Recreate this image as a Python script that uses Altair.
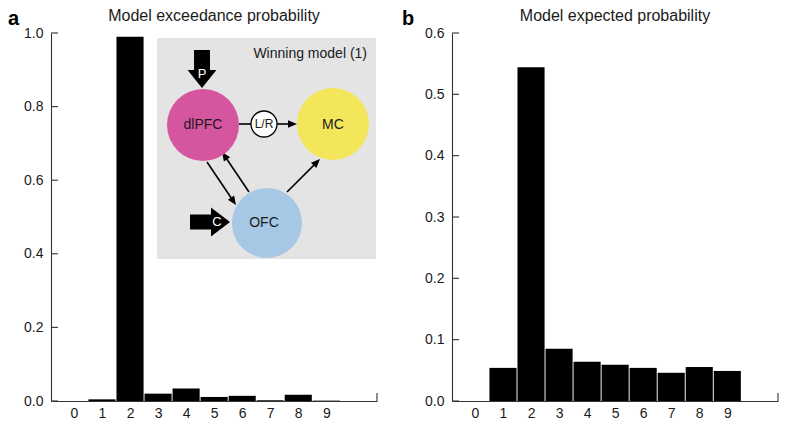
import math
import altair as alt
import pandas as pd

FONT = "Liberation Sans"
AX = "#333333"
TXT = "#1a1a1a"

# ---- data ----
models = [0, 1, 2, 3, 4, 5, 6, 7, 8, 9]
exceedance = [0.0, 0.0045, 0.99, 0.02, 0.034, 0.011, 0.014, 0.002, 0.017, 0.001]
expected = [0.0, 0.054, 0.544, 0.085, 0.064, 0.059, 0.054, 0.046, 0.0555, 0.049]
ticks_a = [0.0, 0.2, 0.4, 0.6, 0.8, 1.0]
ticks_b = [0.0, 0.1, 0.2, 0.3, 0.4, 0.5, 0.6]
titles = ["Model exceedance probability", "Model expected probability"]
letters = ["a", "b"]
inset_title = "Winning model (1)"
node_names = ["dlPFC", "MC", "OFC"]
node_colors = ["#d5559f", "#f3e65a", "#a6c8e4"]
input_names = ["P", "C"]
relay_name = "L/R"

# ---- layout ----
W, H = 326, 368
XMIN, XMAX = -0.64, 10.63
BAR = 27.1

one = pd.DataFrame({"k": [0]})


def txt(s, x, y, size=14, color=TXT, weight="normal", align="center", baseline="middle"):
    return alt.Chart(one).mark_text(
        text=s, fontSize=size, font=FONT, color=color, fontWeight=weight,
        align=align, baseline=baseline
    ).encode(x=alt.value(x), y=alt.value(y))


def seg(x1, y1, x2, y2, w=1.6, color="black"):
    return alt.Chart(one).mark_rule(color=color, strokeWidth=w).encode(
        x=alt.value(x1), y=alt.value(y1), x2=alt.value(x2), y2=alt.value(y2))


HEAD = "M 0 0 L -1 -0.42 L -1 0.42 Z"


def arrow(x1, y1, x2, y2):
    dx, dy = x2 - x1, y2 - y1
    L = math.hypot(dx, dy)
    ex, ey = x2 - dx / L * 4, y2 - dy / L * 4
    ang = math.degrees(math.atan2(dy, dx)) % 360
    line = seg(x1, y1, ex, ey)
    head = alt.Chart(one).mark_point(
        shape=HEAD, filled=True, color="black", opacity=1, size=324, angle=ang,
        strokeWidth=0).encode(x=alt.value(x2), y=alt.value(y2))
    return [line, head]


def disc(x, y, d, fill, stroke=None, sw=0):
    kw = dict(shape="circle", filled=True, fill=fill, opacity=1, fillOpacity=1, size=d * d)
    if stroke:
        kw.update(stroke=stroke, strokeWidth=sw)
    else:
        kw.update(strokeWidth=0)
    return alt.Chart(one).mark_point(**kw).encode(x=alt.value(x), y=alt.value(y))


P_PATH = "M -0.42 -1 L 0.42 -1 L 0.42 0.05 L 0.76 0.05 L 0 1 L -0.76 0.05 L -0.42 0.05 Z"
C_PATH = "M -1 -0.375 L 0.05 -0.375 L 0.05 -0.72 L 1 0 L 0.05 0.72 L 0.05 0.375 L -1 0.375 Z"


def block(path, x, y, d):
    return alt.Chart(one).mark_point(
        shape=path, filled=True, color="black", opacity=1, size=d * d, strokeWidth=0
    ).encode(x=alt.value(x), y=alt.value(y))


def inset_layers():
    L = []
    L.append(alt.Chart(one).mark_rect(color="#e4e4e4").encode(
        x=alt.value(106), x2=alt.value(325), y=alt.value(5), y2=alt.value(226)))
    L.append(txt(inset_title, 316, 21, size=14, align="right"))
    # connections
    L.append(seg(188, 91, 201, 91))
    L += arrow(226, 91, 246, 91)
    L += arrow(156, 129, 185, 172)
    L += arrow(198, 159, 171, 119)
    L += arrow(236, 159, 269, 126)
    # nodes
    L.append(disc(152, 92, 72, node_colors[0]))
    L.append(disc(282, 91, 72, node_colors[1]))
    L.append(disc(216, 190, 70, node_colors[2]))
    L.append(disc(213, 91, 26, "white", stroke="black", sw=1.3))
    L.append(txt(node_names[0], 152, 92, size=14))
    L.append(txt(node_names[1], 282, 92, size=14))
    L.append(txt(node_names[2], 213, 190, size=14))
    L.append(txt(relay_name, 213, 91, size=12))
    # inputs
    L.append(block(P_PATH, 151, 36, 38))
    L.append(txt(input_names[0], 151, 41, size=13, color="white"))
    L.append(block(C_PATH, 159, 189, 40))
    L.append(txt(input_names[1], 166, 189, size=13, color="white"))
    return L


def panel(values, ticks, ymax, title, letter, letter_x, inset=False):
    df = pd.DataFrame({"model": models, "p": values})
    xs = alt.Scale(domain=[XMIN, XMAX], nice=False, zero=False)
    ys = alt.Scale(domain=[0, ymax], nice=False, zero=True)
    bars = alt.Chart(df).mark_bar(color="black", size=BAR).encode(
        x=alt.X("model:Q", scale=xs, axis=alt.Axis(
            values=models, format="d", ticks=False, tickSize=0, labelPadding=5,
            grid=False, title=None, domainColor=AX, domainWidth=1.1,
            labelFontSize=14, labelFont=FONT, labelColor=TXT,
            labelFlush=False, labelOverlap=False)),
        y=alt.Y("p:Q", scale=ys, axis=alt.Axis(
            values=ticks, format=".1f", ticks=False, tickSize=0, labelPadding=8,
            grid=False, title=None, domainColor=AX, domainWidth=1.1,
            labelFontSize=14, labelFont=FONT, labelColor=TXT,
            labelFlush=False, labelOverlap=False)),
    )
    tick_df = pd.DataFrame({"p": ticks})
    yt = alt.Chart(tick_df).mark_rule(color=AX, strokeWidth=1.1).encode(
        y=alt.Y("p:Q", scale=ys), x=alt.value(0), x2=alt.value(7))
    endtick = seg(W, H, W, H - 8, w=1.1, color=AX)
    layers = [bars, yt, endtick]
    if inset:
        layers += inset_layers()
    layers.append(txt(title, W / 2, -12, size=16, baseline="alphabetic"))
    layers.append(txt(letter, letter_x, -8, size=20, weight="bold", align="left",
                      baseline="alphabetic", color="black"))
    return alt.layer(*layers).properties(width=W, height=H)


pa = panel(exceedance, ticks_a, 1.0, titles[0], letters[0], -43, inset=True)
pb = panel(expected, ticks_b, 0.6, titles[1], letters[1], -50)

chart = alt.hconcat(pa, pb, spacing=24).configure_view(stroke=None).properties(padding=0)

chart.save("out.html", embed_options={"renderer": "svg", "actions": False})
